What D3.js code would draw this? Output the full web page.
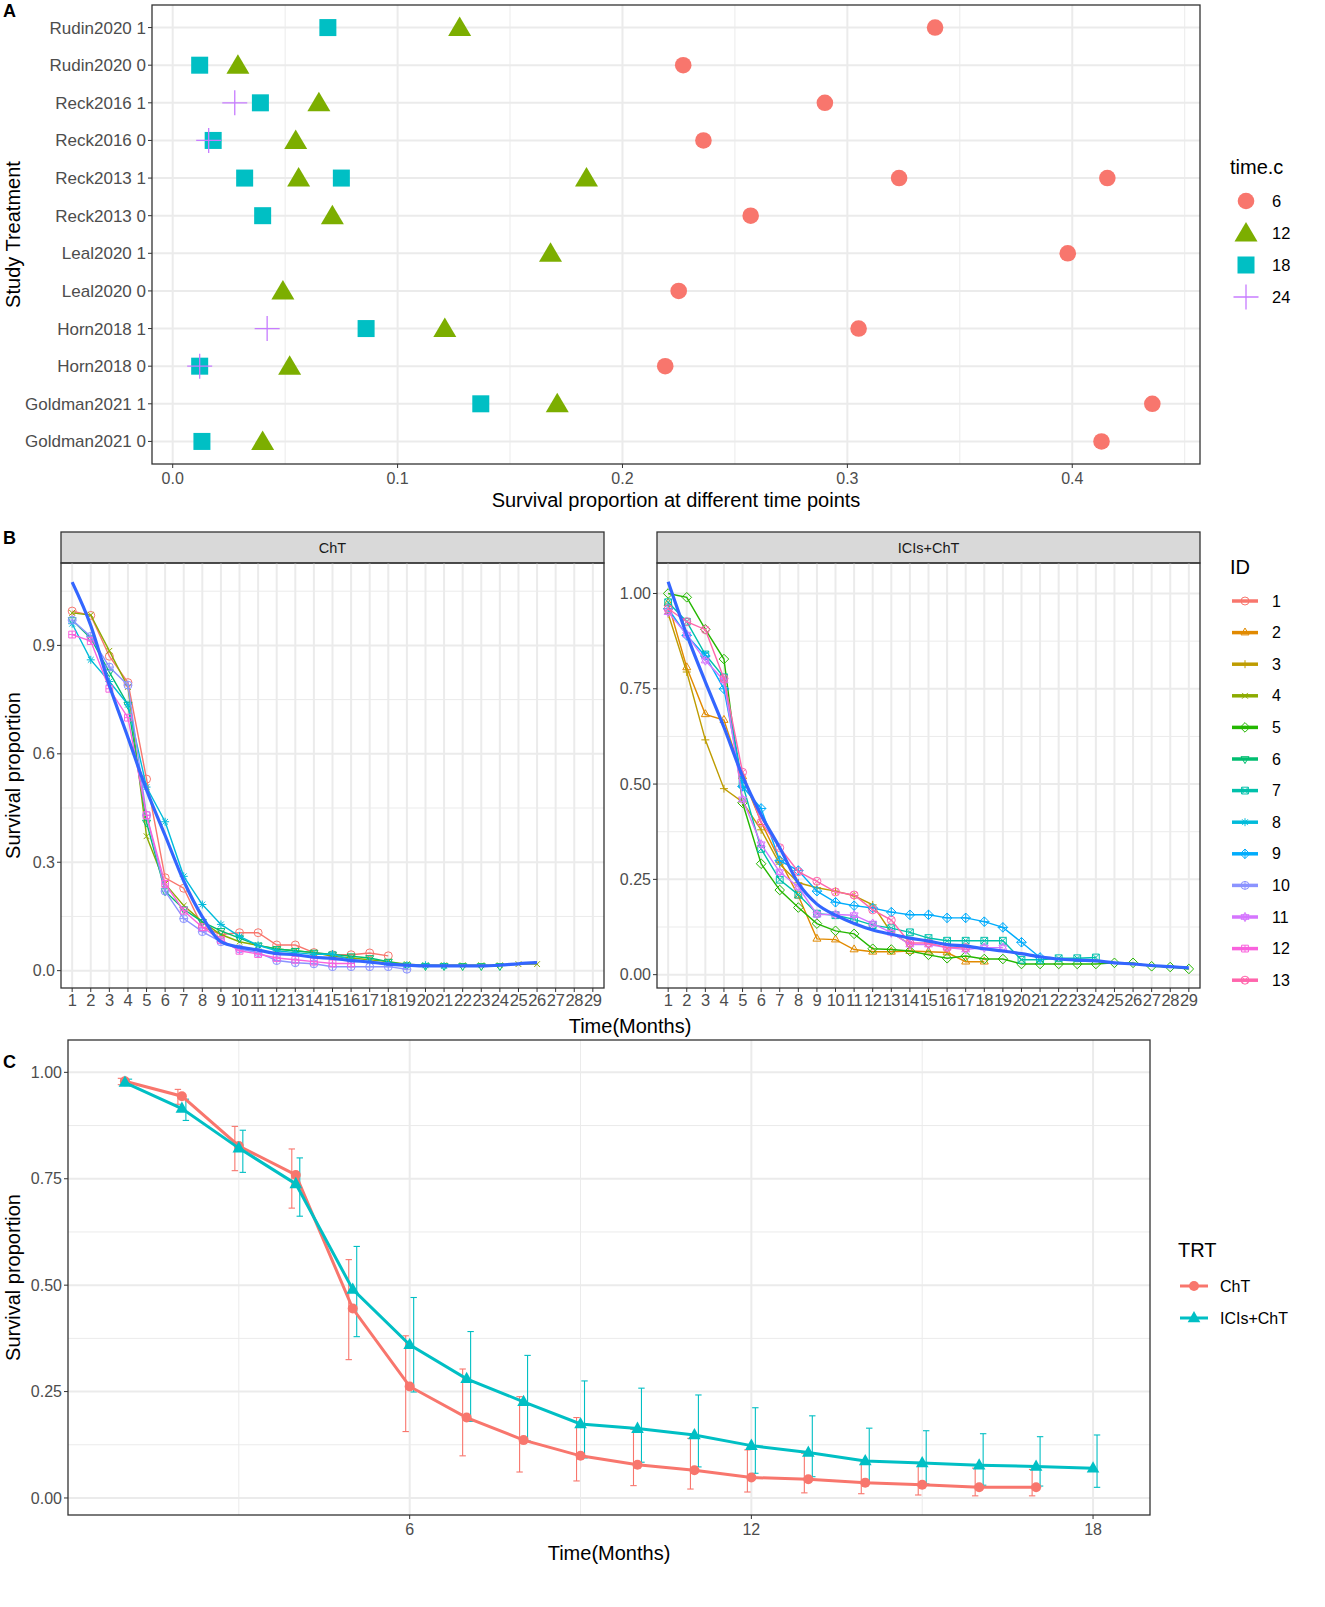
<!DOCTYPE html>
<html>
<head>
<meta charset="utf-8">
<script src="https://cdn.jsdelivr.net/npm/d3@7"></script>
<style>
body { margin: 0; background: #fff; }
text { font-family: "Liberation Sans", Arial, sans-serif; }
</style>
</head>
<body>
<script>
// ---- panel A data: survival proportion per study arm at each time point
const studyRows = ["Rudin2020 1", "Rudin2020 0", "Reck2016 1", "Reck2016 0", "Reck2013 1", "Reck2013 0",
  "Leal2020 1", "Leal2020 0", "Horn2018 1", "Horn2018 0", "Goldman2021 1", "Goldman2021 0"];
const surv6 = [[0.339], [0.227], [0.290], [0.236], [0.323, 0.4156], [0.257], [0.398], [0.225], [0.305], [0.219], [0.4356], [0.413]];
const surv12 = [[0.1276], [0.029], [0.065], [0.0547], [0.056, 0.184], [0.071], [0.168], [0.049], [0.121], [0.052], [0.171], [0.040]];
const surv18 = [[0.069], [0.012], [0.039], [0.018], [0.032, 0.075], [0.040], [], [], [0.086], [0.012], [0.137], [0.013]];
const surv24 = [[], [], [0.0276], [0.016], [], [], [], [], [0.042], [0.012], [], []];
const timeLabels = ["6", "12", "18", "24"];
const aTicks = [0, 0.1, 0.2, 0.3, 0.4];

// ---- panel B data: survival by month (starting month 1) for each ID
const months = d3.range(1, 30);
const idColors = ["#F8766D", "#E18A00", "#BE9C00", "#8CAB00", "#24B700", "#00BE70", "#00C1AB",
  "#00BBDA", "#00ACFC", "#8B93FF", "#D575FE", "#F962DD", "#FF65AC"];
const chtIDs = [1, 4, 6, 8, 10, 12];
const chtSurv = [
  [0.995, 0.983, 0.87, 0.797, 0.53, 0.257, 0.228, 0.121, 0.10, 0.105, 0.105, 0.071, 0.071, 0.05, 0.044, 0.044, 0.049, 0.041],
  [0.99, 0.984, 0.885, 0.785, 0.372, 0.24, 0.18, 0.135, 0.10, 0.08, 0.07, 0.06, 0.055, 0.05, 0.04, 0.035, 0.03, 0.025, 0.018, 0.015, 0.015, 0.015, 0.015, 0.015, 0.018, 0.018],
  [0.97, 0.92, 0.826, 0.736, 0.41, 0.22, 0.17, 0.135, 0.11, 0.09, 0.07, 0.06, 0.055, 0.05, 0.045, 0.04, 0.035, 0.025, 0.015, 0.013, 0.013, 0.013, 0.013, 0.013],
  [0.96, 0.86, 0.80, 0.736, 0.508, 0.412, 0.261, 0.183, 0.128, 0.095, 0.07, 0.055, 0.05, 0.045, 0.046, 0.03, 0.025, 0.02, 0.015, 0.015, 0.013],
  [0.97, 0.925, 0.84, 0.79, 0.43, 0.22, 0.144, 0.108, 0.08, 0.06, 0.05, 0.028, 0.022, 0.019, 0.011, 0.011, 0.011, 0.011, 0.004],
  [0.93, 0.912, 0.78, 0.70, 0.43, 0.24, 0.166, 0.12, 0.085, 0.055, 0.046, 0.035, 0.03, 0.025, 0.02, 0.02]
];
const iciIDs = [2, 3, 5, 7, 9, 11, 13];
const iciSurv = [
  [0.975, 0.806, 0.683, 0.668, 0.52, 0.40, 0.30, 0.207, 0.094, 0.092, 0.066, 0.06, 0.06, 0.062, 0.06, 0.058, 0.034, 0.034],
  [0.947, 0.794, 0.616, 0.488, 0.453, 0.38, 0.29, 0.241, 0.228, 0.219, 0.207, 0.183, 0.11, 0.08],
  [1.0, 0.99, 0.906, 0.828, 0.451, 0.291, 0.222, 0.176, 0.134, 0.115, 0.107, 0.068, 0.066, 0.062, 0.052, 0.043, 0.049, 0.041, 0.041, 0.028, 0.028, 0.028, 0.028, 0.028, 0.031, 0.031, 0.022, 0.02, 0.015],
  [0.977, 0.926, 0.84, 0.78, 0.50, 0.33, 0.249, 0.21, 0.16, 0.156, 0.145, 0.13, 0.122, 0.111, 0.096, 0.089, 0.089, 0.089, 0.089, 0.039, 0.039, 0.043, 0.043, 0.045],
  [0.96, 0.89, 0.836, 0.75, 0.494, 0.436, 0.299, 0.273, 0.219, 0.19, 0.181, 0.175, 0.164, 0.157, 0.157, 0.149, 0.149, 0.139, 0.124, 0.085, 0.045],
  [0.951, 0.892, 0.824, 0.772, 0.46, 0.342, 0.269, 0.23, 0.158, 0.158, 0.156, 0.134, 0.11, 0.079, 0.079, 0.071, 0.066, 0.071, 0.071],
  [0.96, 0.926, 0.905, 0.777, 0.531, 0.40, 0.333, 0.27, 0.245, 0.217, 0.209, 0.17, 0.143, 0.083, 0.083, 0.071, 0.071]
];
const chtSmooth = [1.075, 0.955, 0.79, 0.645, 0.50, 0.374, 0.248, 0.149, 0.08, 0.065, 0.057, 0.047, 0.044, 0.037, 0.034, 0.028, 0.024, 0.018, 0.015, 0.013, 0.013, 0.013, 0.013, 0.015, 0.019, 0.022];
const iciSmooth = [1.031, 0.892, 0.768, 0.649, 0.521, 0.419, 0.333, 0.24, 0.185, 0.156, 0.134, 0.117, 0.106, 0.096, 0.088, 0.079, 0.075, 0.068, 0.062, 0.055, 0.047, 0.041, 0.038, 0.036, 0.031, 0.028, 0.024, 0.021, 0.018];

// ---- panel C data: pooled survival with error bars
const chtMean = [0.979, 0.944, 0.827, 0.759, 0.445, 0.262, 0.189, 0.136, 0.099, 0.078, 0.065, 0.048, 0.044, 0.036, 0.031, 0.025, 0.025];
const chtLow  = [0.971, 0.925, 0.769, 0.681, 0.325, 0.156, 0.099, 0.061, 0.040, 0.029, 0.021, 0.014, 0.012, 0.010, 0.007, 0.005, 0.005];
const chtHigh = [0.986, 0.960, 0.873, 0.820, 0.560, 0.381, 0.303, 0.238, 0.189, 0.161, 0.140, 0.113, 0.105, 0.090, 0.081, 0.070, 0.067];
const iciMean = [0.976, 0.915, 0.822, 0.738, 0.490, 0.360, 0.280, 0.226, 0.174, 0.163, 0.148, 0.123, 0.107, 0.087, 0.082, 0.077, 0.074, 0.070];
const iciLow  = [0.971, 0.887, 0.765, 0.662, 0.379, 0.249, 0.180, 0.134, 0.094, 0.084, 0.073, 0.058, 0.050, 0.035, 0.033, 0.030, 0.028, 0.025];
const iciHigh = [0.984, 0.937, 0.864, 0.799, 0.591, 0.471, 0.391, 0.335, 0.275, 0.258, 0.242, 0.212, 0.193, 0.164, 0.158, 0.151, 0.144, 0.148];

const GRID = "#EBEBEB", BORDER = "#333333", TXT = "#4D4D4D";
const svg = d3.select("body").append("svg").attr("width", 1325).attr("height", 1607);

// ggplot-like open shapes, index = ID
function shapePath(k, s) {
  const circ = `M${-s},0a${s},${s} 0 1,0 ${2 * s},0a${s},${s} 0 1,0 ${-2 * s},0`;
  const tu = `M0,${-1.15 * s}L${s},${0.58 * s}L${-s},${0.58 * s}Z`;
  const td = `M0,${1.15 * s}L${s},${-0.58 * s}L${-s},${-0.58 * s}Z`;
  const pl = `M${-s},0H${s}M0,${-s}V${s}`;
  const a = s * 0.72;
  const cr = `M${-a},${-a}L${a},${a}M${-a},${a}L${a},${-a}`;
  const d = s * 1.2;
  const dia = `M0,${-d}L${d},0L0,${d}L${-d},0Z`;
  const q = s * 0.85;
  const sq = `M${-q},${-q}H${q}V${q}H${-q}Z`;
  switch (k) {
    case 1: return circ;
    case 2: return tu;
    case 3: return pl;
    case 4: return cr;
    case 5: return dia;
    case 6: return td;
    case 7: return sq + `M${-q},${-q}L${q},${q}M${-q},${q}L${q},${-q}`;
    case 8: return pl + cr;
    case 9: return dia + `M${-d},0H${d}M0,${-d}V${d}`;
    case 10: return circ + pl;
    case 11: return tu + td;
    case 12: return sq + `M${-q},0H${q}M0,${-q}V${q}`;
    default: return circ + cr;
  }
}

function frame(g, x0, x1, y0, y1) {
  g.append("rect").attr("x", x0).attr("y", y0).attr("width", x1 - x0).attr("height", y1 - y0)
    .attr("fill", "none").attr("stroke", BORDER).attr("stroke-width", 1.3);
}

// =================== PANEL A ===================
const A = { x0: 152, x1: 1200, y0: 5, y1: 464 };
const xA = d3.scaleLinear().domain([-0.0092, 0.4568]).range([A.x0, A.x1]);
const yA = d3.scalePoint().domain(studyRows).range([A.y0, A.y1]).padding(0.6);
const gA = svg.append("g");

gA.selectAll(".mn").data([0.05, 0.15, 0.25, 0.35, 0.45]).join("line")
  .attr("x1", d => xA(d)).attr("x2", d => xA(d)).attr("y1", A.y0).attr("y2", A.y1)
  .attr("stroke", GRID).attr("stroke-width", 1);
gA.selectAll(".mx").data(aTicks).join("line")
  .attr("x1", d => xA(d)).attr("x2", d => xA(d)).attr("y1", A.y0).attr("y2", A.y1)
  .attr("stroke", GRID).attr("stroke-width", 2);
gA.selectAll(".my").data(studyRows).join("line")
  .attr("x1", A.x0).attr("x2", A.x1).attr("y1", d => yA(d)).attr("y2", d => yA(d))
  .attr("stroke", GRID).attr("stroke-width", 2);

const aColors = ["#F8766D", "#7CAE00", "#00BFC4", "#C77CFF"];
const aSets = [surv6, surv12, surv18, surv24];
function aSymbol(g, k, x, y, big) {
  const c = aColors[k];
  const f = big || 1;
  if (k === 0) g.append("circle").attr("cx", x).attr("cy", y).attr("r", 8.3 * f).attr("fill", c);
  else if (k === 1) g.append("path").attr("transform", `translate(${x},${y})`)
    .attr("d", `M0,${-11 * f}L${11.5 * f},${8.5 * f}L${-11.5 * f},${8.5 * f}Z`).attr("fill", c);
  else if (k === 2) g.append("rect").attr("x", x - 8.5 * f).attr("y", y - 8.5 * f)
    .attr("width", 17 * f).attr("height", 17 * f).attr("fill", c);
  else g.append("path").attr("transform", `translate(${x},${y})`)
    .attr("d", `M${-12.5 * f},0H${12.5 * f}M0,${-12.5 * f}V${12.5 * f}`)
    .attr("stroke", c).attr("stroke-width", 1.3).attr("fill", "none");
}
aSets.forEach((set, k) => {
  set.forEach((vals, i) => vals.forEach(v => aSymbol(gA, k, xA(v), yA(studyRows[i]))));
});
frame(gA, A.x0, A.x1, A.y0, A.y1);

// axes A
gA.selectAll(".ytk").data(studyRows).join("line")
  .attr("x1", A.x0 - 4).attr("x2", A.x0).attr("y1", d => yA(d)).attr("y2", d => yA(d)).attr("stroke", BORDER);
gA.selectAll(".ylb").data(studyRows).join("text")
  .attr("x", A.x0 - 6).attr("y", d => yA(d)).attr("dy", "0.35em").attr("text-anchor", "end")
  .attr("font-size", 17).attr("fill", TXT).text(d => d);
gA.selectAll(".xtk").data(aTicks).join("line")
  .attr("x1", d => xA(d)).attr("x2", d => xA(d)).attr("y1", A.y1).attr("y2", A.y1 + 4).attr("stroke", BORDER);
gA.selectAll(".xlb").data(aTicks).join("text")
  .attr("x", d => xA(d)).attr("y", 484).attr("text-anchor", "middle")
  .attr("font-size", 16).attr("fill", TXT).text(d3.format(".1f"));
gA.append("text").attr("x", (A.x0 + A.x1) / 2).attr("y", 507).attr("text-anchor", "middle")
  .attr("font-size", 20).text("Survival proportion at different time points");
gA.append("text").attr("transform", `translate(20,${(A.y0 + A.y1) / 2}) rotate(-90)`)
  .attr("text-anchor", "middle").attr("font-size", 20).text("Study Treatment");
svg.append("text").attr("x", 3).attr("y", 17).attr("font-size", 18).attr("font-weight", "bold").text("A");

// legend A
svg.append("text").attr("x", 1230).attr("y", 174).attr("font-size", 20).text("time.c");
timeLabels.forEach((t, k) => {
  const y = 201 + k * 32;
  aSymbol(svg, k, 1246, y, 1);
  svg.append("text").attr("x", 1272).attr("y", y).attr("dy", "0.35em").attr("font-size", 16.5).text(t);
});

// =================== PANEL B ===================
const B = { y0: 563, y1: 988, sy0: 532 };
const facets = [
  { name: "ChT", x0: 61, x1: 604, dom: [-0.048, 1.128], ticks: [0, 0.3, 0.6, 0.9], minor: [0.15, 0.45, 0.75, 1.05], fmt: ".1f", ids: chtIDs, surv: chtSurv, smooth: chtSmooth },
  { name: "ICIs+ChT", x0: 657, x1: 1200, dom: [-0.035, 1.08], ticks: [0, 0.25, 0.5, 0.75, 1], minor: [0.125, 0.375, 0.625, 0.875], fmt: ".2f", ids: iciIDs, surv: iciSurv, smooth: iciSmooth }
];
facets.forEach(f => {
  const g = svg.append("g");
  const x = d3.scalePoint().domain(months).range([f.x0, f.x1]).padding(0.6);
  const y = d3.scaleLinear().domain(f.dom).range([B.y1, B.y0]);
  // strip
  g.append("rect").attr("x", f.x0).attr("y", B.sy0).attr("width", f.x1 - f.x0).attr("height", B.y0 - B.sy0)
    .attr("fill", "#D9D9D9").attr("stroke", BORDER).attr("stroke-width", 1.3);
  g.append("text").attr("x", (f.x0 + f.x1) / 2).attr("y", (B.sy0 + B.y0) / 2).attr("dy", "0.35em")
    .attr("text-anchor", "middle").attr("font-size", 14.5).attr("fill", "#1A1A1A").text(f.name);
  // grid
  g.selectAll(".mn").data(f.minor).join("line").attr("x1", f.x0).attr("x2", f.x1)
    .attr("y1", d => y(d)).attr("y2", d => y(d)).attr("stroke", GRID).attr("stroke-width", 1);
  g.selectAll(".my").data(f.ticks).join("line").attr("x1", f.x0).attr("x2", f.x1)
    .attr("y1", d => y(d)).attr("y2", d => y(d)).attr("stroke", GRID).attr("stroke-width", 2);
  g.selectAll(".mx").data(months).join("line").attr("x1", d => x(d)).attr("x2", d => x(d))
    .attr("y1", B.y0).attr("y2", B.y1).attr("stroke", GRID).attr("stroke-width", 2);
  // series
  const line = d3.line().x((d, i) => x(months[i])).y(d => y(d));
  f.ids.forEach((id, j) => {
    const c = idColors[id - 1];
    g.append("path").attr("d", line(f.surv[j])).attr("fill", "none").attr("stroke", c).attr("stroke-width", 1.4);
    g.selectAll(null).data(f.surv[j]).join("path")
      .attr("transform", (d, i) => `translate(${x(months[i])},${y(d)})`)
      .attr("d", shapePath(id, 4)).attr("fill", "none").attr("stroke", c).attr("stroke-width", 1);
  });
  const sm = d3.line().x((d, i) => x(months[i])).y(d => y(d)).curve(d3.curveMonotoneX);
  g.append("path").attr("d", sm(f.smooth)).attr("fill", "none").attr("stroke", "#3366FF").attr("stroke-width", 3.2);
  frame(g, f.x0, f.x1, B.y0, B.y1);
  // axes
  g.selectAll(".ytk").data(f.ticks).join("line").attr("x1", f.x0 - 4).attr("x2", f.x0)
    .attr("y1", d => y(d)).attr("y2", d => y(d)).attr("stroke", BORDER);
  g.selectAll(".ylb").data(f.ticks).join("text").attr("x", f.x0 - 6).attr("y", d => y(d)).attr("dy", "0.35em")
    .attr("text-anchor", "end").attr("font-size", 16).attr("fill", TXT).text(d3.format(f.fmt));
  g.selectAll(".xtk").data(months).join("line").attr("x1", d => x(d)).attr("x2", d => x(d))
    .attr("y1", B.y1).attr("y2", B.y1 + 4).attr("stroke", BORDER);
  g.selectAll(".xlb").data(months).join("text").attr("x", d => x(d)).attr("y", 1006)
    .attr("text-anchor", "middle").attr("font-size", 16.5).attr("fill", TXT).attr("letter-spacing", -0.4).text(d => d);
});
svg.append("text").attr("x", 630).attr("y", 1033).attr("text-anchor", "middle").attr("font-size", 20).text("Time(Months)");
svg.append("text").attr("transform", `translate(20,${(B.y0 + B.y1) / 2}) rotate(-90)`)
  .attr("text-anchor", "middle").attr("font-size", 20).text("Survival proportion");
svg.append("text").attr("x", 3).attr("y", 544).attr("font-size", 18).attr("font-weight", "bold").text("B");

// legend B
svg.append("text").attr("x", 1230).attr("y", 574).attr("font-size", 20).text("ID");
idColors.forEach((c, i) => {
  const y = 601 + i * 31.6;
  svg.append("line").attr("x1", 1232).attr("x2", 1258).attr("y1", y).attr("y2", y).attr("stroke", c).attr("stroke-width", 3.5);
  svg.append("path").attr("transform", `translate(1245,${y})`).attr("d", shapePath(i + 1, 4))
    .attr("fill", "none").attr("stroke", c).attr("stroke-width", 1);
  svg.append("text").attr("x", 1272).attr("y", y).attr("dy", "0.35em").attr("font-size", 16).text(i + 1);
});

// =================== PANEL C ===================
const C = { x0: 68, x1: 1150, y0: 1040, y1: 1515 };
const xC = d3.scaleLinear().domain([0, 19]).range([C.x0, C.x1]);
const yC = d3.scaleLinear().domain([-0.04, 1.076]).range([C.y1, C.y0]);
const gC = svg.append("g");
const cYT = [0, 0.25, 0.5, 0.75, 1];
const cXT = [6, 12, 18];
gC.selectAll(".mn").data([0.125, 0.375, 0.625, 0.875]).join("line").attr("x1", C.x0).attr("x2", C.x1)
  .attr("y1", d => yC(d)).attr("y2", d => yC(d)).attr("stroke", GRID).attr("stroke-width", 1);
gC.selectAll(".mnx").data([3, 9, 15]).join("line").attr("x1", d => xC(d)).attr("x2", d => xC(d))
  .attr("y1", C.y0).attr("y2", C.y1).attr("stroke", GRID).attr("stroke-width", 1);
gC.selectAll(".my").data(cYT).join("line").attr("x1", C.x0).attr("x2", C.x1)
  .attr("y1", d => yC(d)).attr("y2", d => yC(d)).attr("stroke", GRID).attr("stroke-width", 2);
gC.selectAll(".mx").data(cXT).join("line").attr("x1", d => xC(d)).attr("x2", d => xC(d))
  .attr("y1", C.y0).attr("y2", C.y1).attr("stroke", GRID).attr("stroke-width", 2);

const groups = [
  { name: "ChT", color: "#F8766D", mean: chtMean, low: chtLow, high: chtHigh, dx: -0.07, shape: "circle" },
  { name: "ICIs+ChT", color: "#00BFC4", mean: iciMean, low: iciLow, high: iciHigh, dx: 0.07, shape: "tri" }
];
function cSymbol(g, shape, x, y, c) {
  if (shape === "circle") g.append("circle").attr("cx", x).attr("cy", y).attr("r", 5).attr("fill", c);
  else g.append("path").attr("transform", `translate(${x},${y})`).attr("d", "M0,-7L6.3,4.3L-6.3,4.3Z").attr("fill", c);
}
groups.forEach(gr => {
  const mo = gr.mean.map((d, i) => i + 1);
  const eb = gC.append("g").attr("stroke", gr.color).attr("stroke-width", 1.1);
  mo.forEach((m, i) => {
    const xe = xC(m + gr.dx), hw = 3.2;
    eb.append("line").attr("x1", xe).attr("x2", xe).attr("y1", yC(gr.low[i])).attr("y2", yC(gr.high[i]));
    eb.append("line").attr("x1", xe - hw).attr("x2", xe + hw).attr("y1", yC(gr.low[i])).attr("y2", yC(gr.low[i]));
    eb.append("line").attr("x1", xe - hw).attr("x2", xe + hw).attr("y1", yC(gr.high[i])).attr("y2", yC(gr.high[i]));
  });
});
groups.forEach(gr => {
  const line = d3.line().x((d, i) => xC(i + 1)).y(d => yC(d));
  gC.append("path").attr("d", line(gr.mean)).attr("fill", "none").attr("stroke", gr.color).attr("stroke-width", 3);
  gr.mean.forEach((v, i) => cSymbol(gC, gr.shape, xC(i + 1), yC(v), gr.color));
});
frame(gC, C.x0, C.x1, C.y0, C.y1);
gC.selectAll(".ytk").data(cYT).join("line").attr("x1", C.x0 - 4).attr("x2", C.x0)
  .attr("y1", d => yC(d)).attr("y2", d => yC(d)).attr("stroke", BORDER);
gC.selectAll(".ylb").data(cYT).join("text").attr("x", C.x0 - 6).attr("y", d => yC(d)).attr("dy", "0.35em")
  .attr("text-anchor", "end").attr("font-size", 16).attr("fill", TXT).text(d3.format(".2f"));
gC.selectAll(".xtk").data(cXT).join("line").attr("x1", d => xC(d)).attr("x2", d => xC(d))
  .attr("y1", C.y1).attr("y2", C.y1 + 4).attr("stroke", BORDER);
gC.selectAll(".xlb").data(cXT).join("text").attr("x", d => xC(d)).attr("y", 1535)
  .attr("text-anchor", "middle").attr("font-size", 16).attr("fill", TXT).text(d => d);
gC.append("text").attr("x", (C.x0 + C.x1) / 2).attr("y", 1560).attr("text-anchor", "middle").attr("font-size", 20).text("Time(Months)");
gC.append("text").attr("transform", `translate(20,${(C.y0 + C.y1) / 2}) rotate(-90)`)
  .attr("text-anchor", "middle").attr("font-size", 20).text("Survival proportion");
svg.append("text").attr("x", 3).attr("y", 1068).attr("font-size", 18).attr("font-weight", "bold").text("C");

// legend C
svg.append("text").attr("x", 1178).attr("y", 1257).attr("font-size", 20).text("TRT");
groups.forEach((gr, k) => {
  const y = 1286 + k * 32;
  svg.append("line").attr("x1", 1180).attr("x2", 1208).attr("y1", y).attr("y2", y).attr("stroke", gr.color).attr("stroke-width", 3);
  cSymbol(svg, gr.shape, 1194, y, gr.color);
  svg.append("text").attr("x", 1220).attr("y", y).attr("dy", "0.35em").attr("font-size", 16).text(gr.name);
});
</script>
</body>
</html>
